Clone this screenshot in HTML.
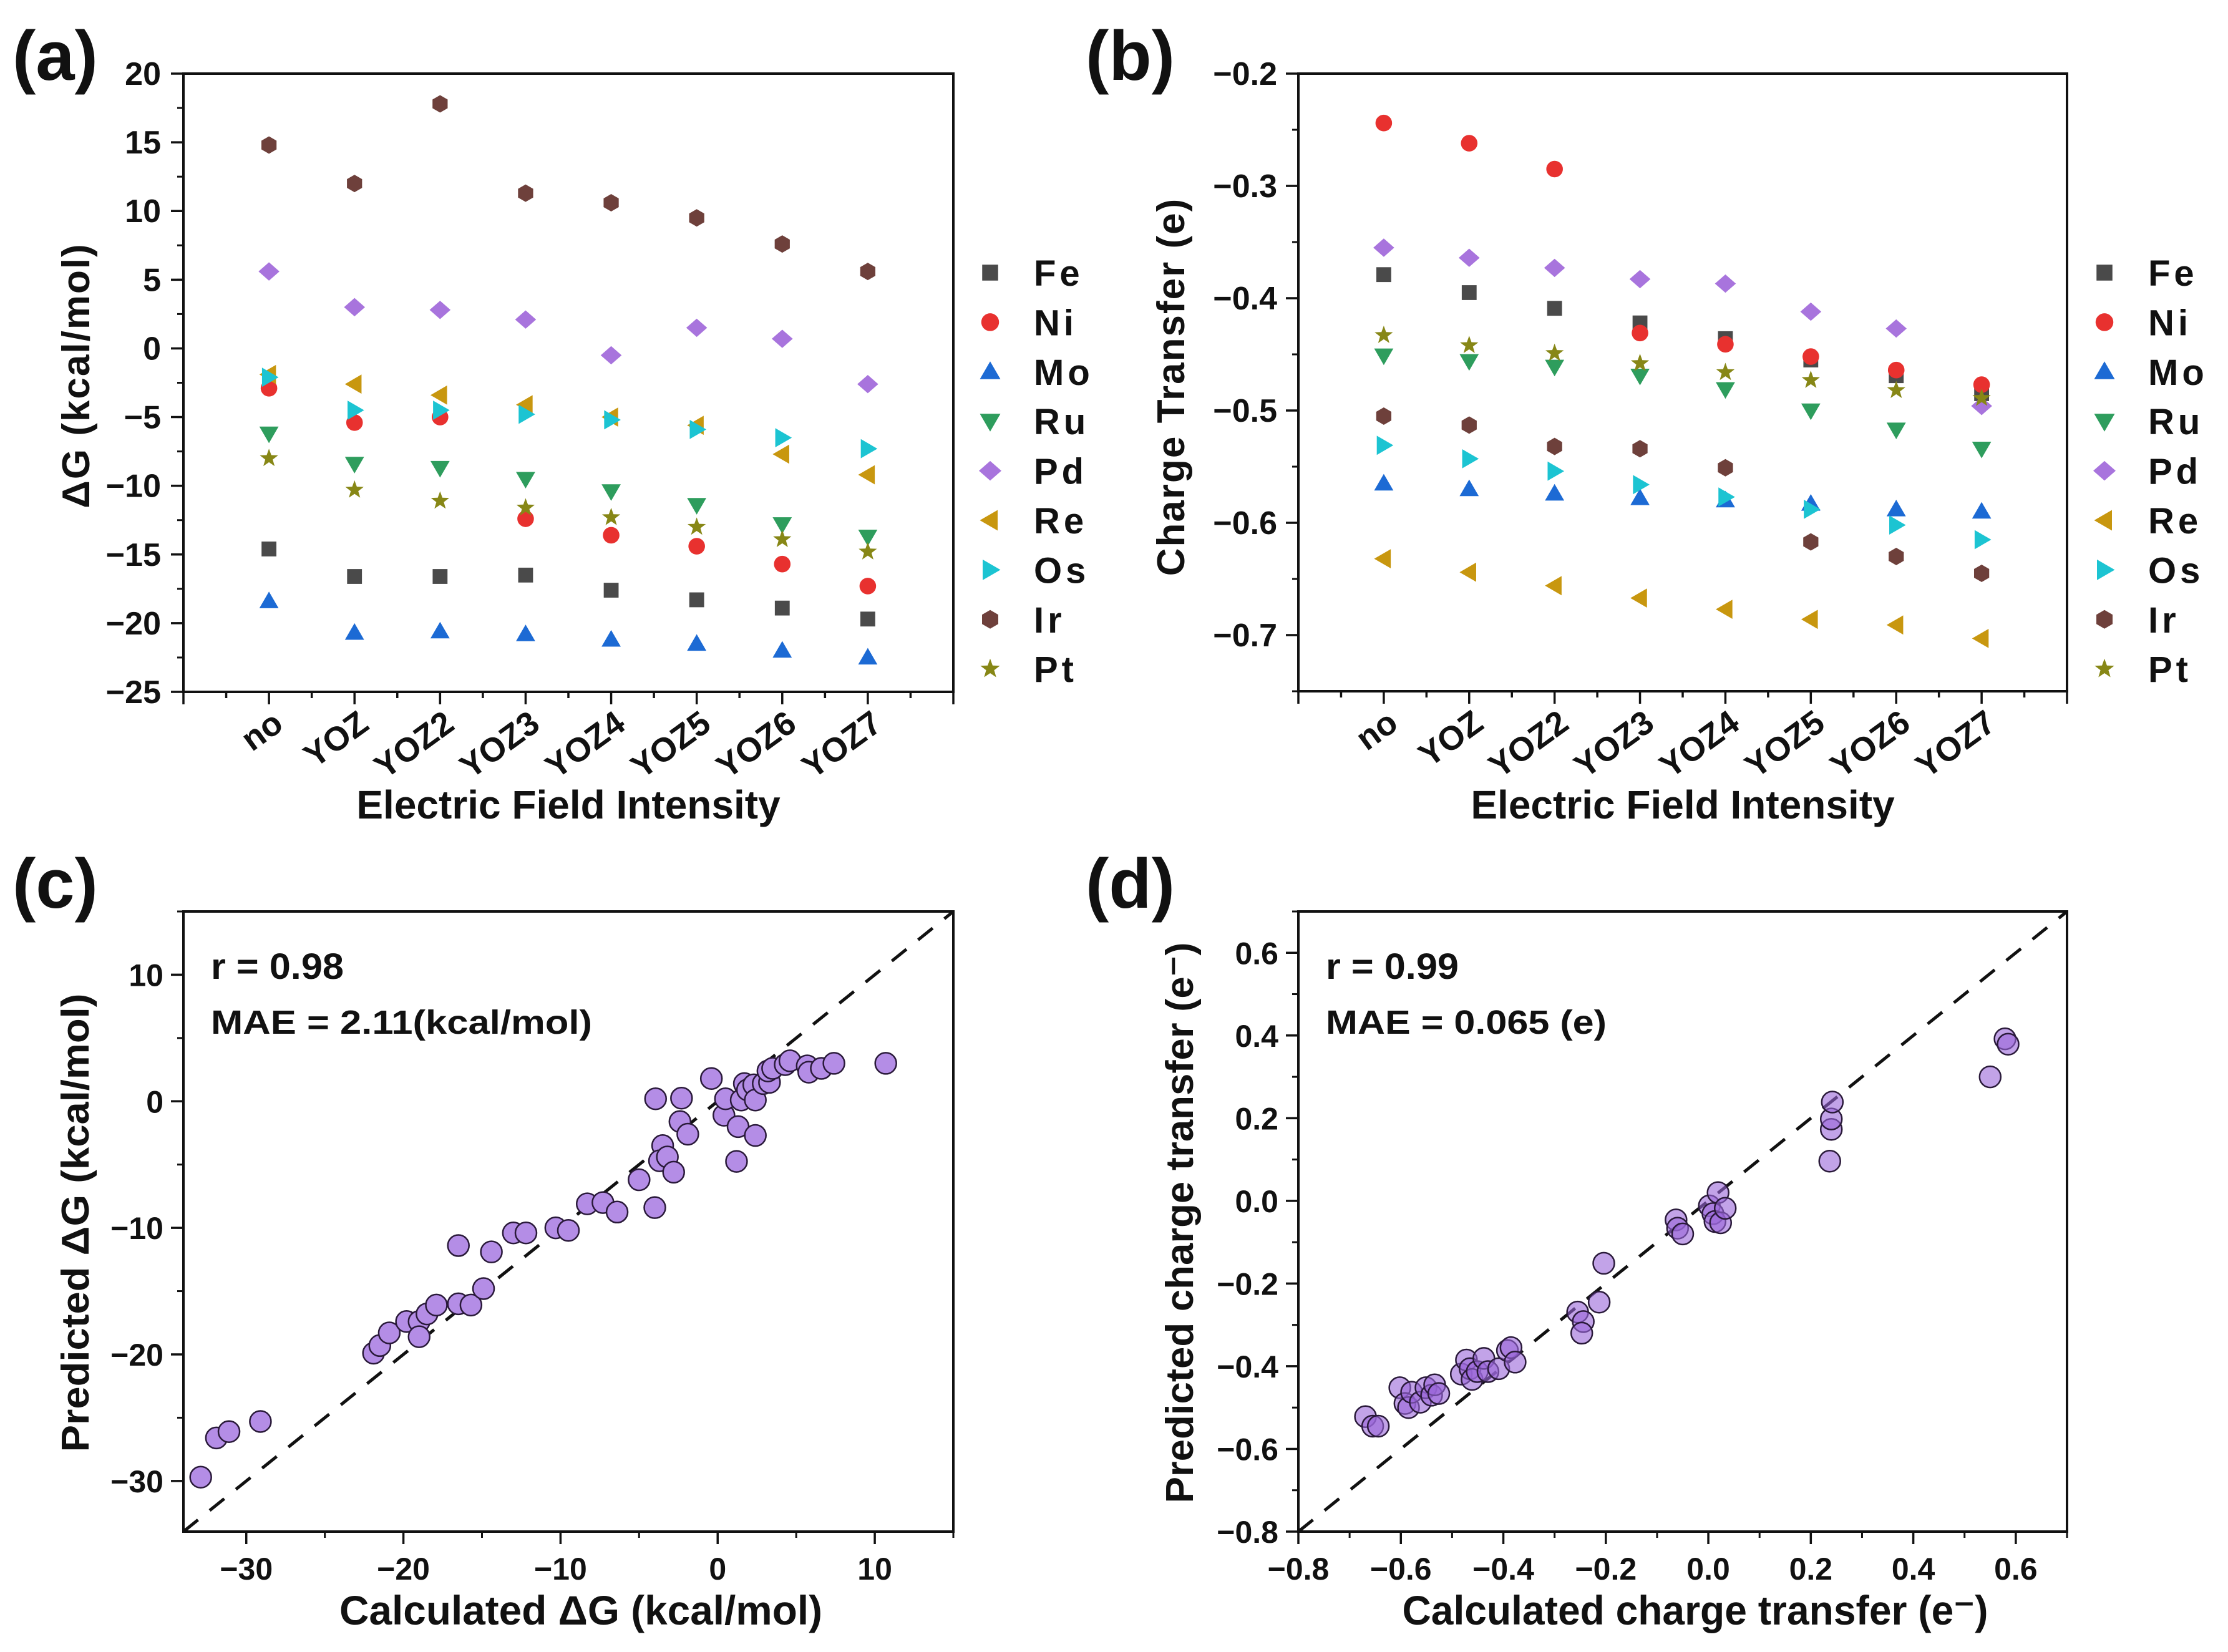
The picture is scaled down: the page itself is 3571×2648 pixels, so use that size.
<!DOCTYPE html>
<html><head><meta charset="utf-8"><style>
html,body{margin:0;padding:0;background:#fff}
svg{display:block}
text{font-family:"Liberation Sans",Arial,sans-serif;font-weight:bold;fill:#111}
</style></head><body>
<svg id="fig" width="3571" height="2648" viewBox="0 0 3571 2648" xmlns="http://www.w3.org/2000/svg"></svg>
<script>
// ---------- data ----------
const categories = ["no","YOZ","YOZ2","YOZ3","YOZ4","YOZ5","YOZ6","YOZ7"];
const metals = ["Fe","Ni","Mo","Ru","Pd","Re","Os","Ir","Pt"];
const dG_Fe = [-14.6,-16.6,-16.6,-16.5,-17.6,-18.3,-18.9,-19.7];
const dG_Ni = [-2.9,-5.4,-5.0,-12.4,-13.6,-14.4,-15.7,-17.3];
const dG_Mo = [-18.4,-20.7,-20.6,-20.8,-21.2,-21.5,-22.0,-22.5];
const dG_Ru = [-6.2,-8.4,-8.7,-9.5,-10.4,-11.4,-12.8,-13.7];
const dG_Pd = [5.6,3.0,2.8,2.1,-0.5,1.5,0.7,-2.6];
const dG_Re = [-1.9,-2.6,-3.4,-4.1,-5.0,-5.6,-7.7,-9.2];
const dG_Os = [-2.1,-4.5,-4.5,-4.8,-5.2,-5.9,-6.5,-7.3];
const dG_Ir = [14.8,12.0,17.8,11.3,10.6,9.5,7.6,5.6];
const dG_Pt = [-8.0,-10.3,-11.1,-11.6,-12.3,-13.0,-13.9,-14.8];
const ct_Fe = [-0.379,-0.395,-0.409,-0.422,-0.436,-0.455,-0.469,-0.485];
const ct_Ni = [-0.244,-0.262,-0.285,-0.431,-0.441,-0.452,-0.464,-0.477];
const ct_Mo = [-0.565,-0.570,-0.574,-0.578,-0.580,-0.583,-0.588,-0.590];
const ct_Ru = [-0.451,-0.456,-0.461,-0.469,-0.481,-0.500,-0.517,-0.534];
const ct_Pd = [-0.355,-0.364,-0.373,-0.383,-0.387,-0.412,-0.427,-0.496];
const ct_Re = [-0.632,-0.644,-0.656,-0.667,-0.677,-0.686,-0.691,-0.703];
const ct_Os = [-0.531,-0.543,-0.554,-0.566,-0.577,-0.588,-0.602,-0.615];
const ct_Ir = [-0.505,-0.513,-0.532,-0.534,-0.551,-0.617,-0.630,-0.645];
const ct_Pt = [-0.433,-0.442,-0.449,-0.458,-0.466,-0.473,-0.482,-0.489];
const c_calc = [-32.9,-31.9,-31.1,-29.1,-21.9,-21.5,-20.9,-19.8,-19.0,-19.0,-18.5,-17.9,-16.5,-15.7,-14.9,-16.5,-14.4,-13.0,-12.2,-10.3,-9.5,-8.3,-7.3,-6.4,-5.0,-4.0,-3.95,-3.5,-3.7,-3.2,-2.8,-2.3,-2.4,-1.9,-0.4,0.4,0.5,1.2,1.3,1.5,1.7,1.9,2.3,2.4,2.4,2.9,3.3,3.2,3.5,4.3,4.6,5.7,5.8,6.6,7.4,10.7];
const c_pred = [-29.7,-26.6,-26.1,-25.3,-19.9,-19.3,-18.3,-17.4,-17.4,-18.6,-16.8,-16.1,-16.0,-16.1,-14.8,-11.4,-11.9,-10.4,-10.4,-10.0,-10.2,-8.1,-8.0,-8.75,-6.2,-8.4,0.2,-3.5,-4.7,-4.4,-5.6,0.25,-1.6,-2.6,1.8,-1.1,0.2,-4.75,-2.0,0.1,1.4,0.9,1.3,0.1,-2.7,1.4,1.5,2.4,2.6,2.9,3.2,2.8,2.3,2.6,3.0,3.0];
const d_calc = [-0.669,-0.655,-0.644,-0.602,-0.592,-0.585,-0.579,-0.562,-0.551,-0.540,-0.534,-0.526,-0.482,-0.472,-0.465,-0.461,-0.451,-0.438,-0.430,-0.409,-0.392,-0.385,-0.377,-0.255,-0.244,-0.247,-0.213,-0.204,-0.063,-0.060,-0.050,0.002,0.009,0.019,0.013,0.024,0.033,0.237,0.240,0.240,0.242,0.550,0.579,0.585];
const d_pred = [-0.522,-0.545,-0.545,-0.452,-0.490,-0.500,-0.463,-0.487,-0.452,-0.470,-0.445,-0.466,-0.419,-0.385,-0.406,-0.432,-0.413,-0.381,-0.413,-0.406,-0.362,-0.355,-0.390,-0.269,-0.292,-0.320,-0.245,-0.151,-0.046,-0.066,-0.080,-0.012,-0.031,0.020,-0.050,-0.053,-0.018,0.096,0.173,0.198,0.239,0.300,0.392,0.379];
const ticksA = [20,15,10,5,0,-5,-10,-15,-20,-25];
const ticksB = [-0.2,-0.3,-0.4,-0.5,-0.6,-0.7];
const ticksC = [-30,-20,-10,0,10];
const ticksD = [-0.8,-0.6,-0.4,-0.2,0.0,0.2,0.4,0.6];

const colors = {Fe:"#4a4a4a",Ni:"#e8312f",Mo:"#1c6ad4",Ru:"#2e9d5d",Pd:"#a874dd",Re:"#c8970f",Os:"#1cc4d2",Ir:"#6e403b",Pt:"#878716"};
const shapes = {Fe:"square",Ni:"circle",Mo:"up",Ru:"down",Pd:"diamond",Re:"left",Os:"right",Ir:"hex",Pt:"star"};
const dGdata = {Fe:dG_Fe,Ni:dG_Ni,Mo:dG_Mo,Ru:dG_Ru,Pd:dG_Pd,Re:dG_Re,Os:dG_Os,Ir:dG_Ir,Pt:dG_Pt};
const ctdata = {Fe:ct_Fe,Ni:ct_Ni,Mo:ct_Mo,Ru:ct_Ru,Pd:ct_Pd,Re:ct_Re,Os:ct_Os,Ir:ct_Ir,Pt:ct_Pt};

const NS="http://www.w3.org/2000/svg";
const svg=document.getElementById('fig');
function mk(tag,attrs,parent,txt){const e=document.createElementNS(NS,tag);for(const k in attrs)e.setAttribute(k,attrs[k]);if(txt!==undefined)e.textContent=txt;(parent||svg).appendChild(e);return e;}
function lin(d0,d1,r0,r1){return v=>r0+(v-d0)/(d1-d0)*(r1-r0);}

function marker(g,shape,cx,cy,color,s){
  let e;
  if(shape==="square"){e=mk('rect',{x:cx-s*0.85,y:cy-s*0.85,width:s*1.7,height:s*1.7,fill:color},g);}
  else if(shape==="circle"){e=mk('circle',{cx:cx,cy:cy,r:s*0.95,fill:color},g);}
  else{
    let pts=[];
    if(shape==="up")pts=[[0,-1.1],[1.1,0.8],[-1.1,0.8]];
    else if(shape==="down")pts=[[0,1.1],[1.1,-0.8],[-1.1,-0.8]];
    else if(shape==="left")pts=[[-1.1,0],[0.8,-1.1],[0.8,1.1]];
    else if(shape==="right")pts=[[1.1,0],[-0.8,-1.1],[-0.8,1.1]];
    else if(shape==="diamond")pts=[[0,-1.05],[1.2,0],[0,1.05],[-1.2,0]];
    else if(shape==="hex"){for(let i=0;i<6;i++){const a=Math.PI/6+i*Math.PI/3;pts.push([Math.cos(a)*1.0,Math.sin(a)*1.0]);}}
    else if(shape==="star"){for(let i=0;i<10;i++){const a=-Math.PI/2+i*Math.PI/5;const r=i%2?0.45:1.1;pts.push([Math.cos(a)*r,Math.sin(a)*r]);}}
    e=mk('polygon',{points:pts.map(p=>(cx+p[0]*s)+','+(cy+p[1]*s)).join(' '),fill:color},g);
  }
  return e;
}

function frame(g,L,R,T,B){
  mk('rect',{x:L,y:T,width:R-L,height:B-T,fill:'none',stroke:'#111','stroke-width':4},g);
}

// ---------- category panels ----------
function catPanel(id,L,R,T,B,yMin,yMax,ticks,minorStep,fmt,data,tickRight,legendX,title,ytitle,ytitleX,ytitleY,label,labelX){
  const g=mk('g',{},svg);
  
  
  const x=lin(0,9,L,R), y=lin(yMin,yMax,B,T);
  frame(g,L,R,T,B);
  for(let v=yMin;v<=yMax+1e-9;v+=minorStep){const yy=y(v);mk('line',{x1:L,x2:L-10,y1:yy,y2:yy,stroke:'#111','stroke-width':3},g);}
  ticks.forEach(v=>{const yy=y(v);mk('line',{x1:L,x2:L-20,y1:yy,y2:yy,stroke:'#111','stroke-width':3.5},g);
    const t=mk('text',{x:tickRight,y:yy+18,'text-anchor':'end','font-size':52},g,fmt(v));
    
    });
  for(let i=0;i<=18;i++){const xx=x(i/2);mk('line',{x1:xx,x2:xx,y1:B,y2:B+(i%2?10:20),stroke:'#111','stroke-width':3.5},g);}
  categories.forEach((c,i)=>{const xx=x(i+1);
    const t=mk('text',{x:0,y:0,'text-anchor':'end','font-size':54,transform:`translate(${xx+26},${B+58}) rotate(-36)`},g,c);
    
    });
  metals.forEach(m=>{data[m].forEach((v,i)=>{const e=marker(g,shapes[m],x(i+1),y(v),colors[m],14);
    
    });});
  // legend
  metals.forEach((m,i)=>{const ly=437+i*79.4;
    const e=marker(g,shapes[m],legendX,ly,colors[m],15);
    
    
    const t=mk('text',{x:legendX+70,y:ly+21,'font-size':58,'letter-spacing':6},g,m);
    
    });
  const xt=mk('text',{x:(L+R)/2,y:1312,'text-anchor':'middle','font-size':64},g,title);
  
  
  const yt=mk('text',{x:0,y:0,'text-anchor':'middle','font-size':62,'letter-spacing':2,transform:`translate(${ytitleX},${ytitleY}) rotate(-90)`},g,ytitle);
  
  
  const pl=mk('text',{x:labelX,y:128,'font-size':112},g,label);
  
  
}
catPanel('panel-a-delta-g',294,1528,118,1109,-25,20,ticksA,2.5,v=>String(v).replace('-','−'),dGdata,258,1587,'Electric Field Intensity','ΔG (kcal/mol)',143,602,'(a)',20);
catPanel('panel-b-charge-transfer',2081,3313,118,1108,-0.75,-0.2,ticksB,0.05,v=>'−'+Math.abs(v).toFixed(1),ctdata,2047,3373,'Electric Field Intensity','Charge Transfer (e)',1898,620,'(b)',1740);

// ---------- parity panels ----------
function parity(id,L,R,T,B,dMin,dMax,ticks,minor,fmt,cx,cy,tickRight,texts,xtitle,xtLen,ytitle,ytLen,ytX,fill,opacity,label,labelX){
  const g=mk('g',{},svg);
  
  
  const x=lin(dMin,dMax,L,R), y=lin(dMin,dMax,B,T);
  mk('line',{x1:x(dMin),y1:y(dMin),x2:x(dMax),y2:y(dMax),stroke:'#111','stroke-width':5,'stroke-dasharray':'30,24'},g);
  cx.forEach((v,i)=>{const c=mk('circle',{cx:x(v),cy:y(cy[i]),r:17,fill:fill,'fill-opacity':opacity,stroke:'#2a1a3a','stroke-width':2.5},g);
    
    });
  frame(g,L,R,T,B);
  const start=Math.ceil(dMin/minor-1e-9)*minor;
  for(let v=start;v<=dMax+1e-9;v+=minor){
    mk('line',{x1:L,x2:L-10,y1:y(v),y2:y(v),stroke:'#111','stroke-width':3},g);
    mk('line',{x1:x(v),x2:x(v),y1:B,y2:B+10,stroke:'#111','stroke-width':3},g);}
  ticks.forEach(v=>{
    mk('line',{x1:L,x2:L-20,y1:y(v),y2:y(v),stroke:'#111','stroke-width':3.5},g);
    mk('line',{x1:x(v),x2:x(v),y1:B,y2:B+20,stroke:'#111','stroke-width':3.5},g);
    const ty=mk('text',{x:tickRight,y:y(v)+18,'text-anchor':'end','font-size':50},g,fmt(v));
    
    
    const tx=mk('text',{x:x(v),y:2532,'text-anchor':'middle','font-size':50},g,fmt(v));
    
    });
  texts.forEach((t,i)=>{const e=mk('text',{x:L+44,y:1569+i*88,'font-size':i?54:58,textLength:t[1],lengthAdjust:'spacingAndGlyphs'},g,t[0]);
    
    });
  const xt=mk('text',{x:(L+R)/2+20,y:2604,'text-anchor':'middle','font-size':66,textLength:xtLen,lengthAdjust:'spacingAndGlyphs'},g,xtitle);
  
  
  const yt=mk('text',{x:0,y:0,'text-anchor':'middle','font-size':62,textLength:ytLen,lengthAdjust:'spacingAndGlyphs',transform:`translate(${ytX},1960) rotate(-90)`},g,ytitle);
  
  
  const pl=mk('text',{x:labelX,y:1455,'font-size':112},g,label);
  
  
}
parity('panel-c-delta-g-parity',294,1528,1461,2455,-34,15,ticksC,5,v=>String(v).replace('-','−'),c_calc,c_pred,262,[['r = 0.98',213],['MAE = 2.11(kcal/mol)',611]],'Calculated ΔG (kcal/mol)',774,'Predicted ΔG (kcal/mol)',735,142,'#b48de6',1,'(c)',20);
parity('panel-d-charge-parity',2081,3313,1461,2455,-0.8,0.7,ticksD,0.1,v=>(v<0?'−':'')+Math.abs(v).toFixed(1),d_calc,d_pred,2049,[['r = 0.99',213],['MAE = 0.065 (e)',450]],'Calculated charge transfer (e⁻)',939,'Predicted charge transfer (e⁻)',899,1912,'#9a66d8',0.6,'(d)',1740);
</script>
</body></html>
